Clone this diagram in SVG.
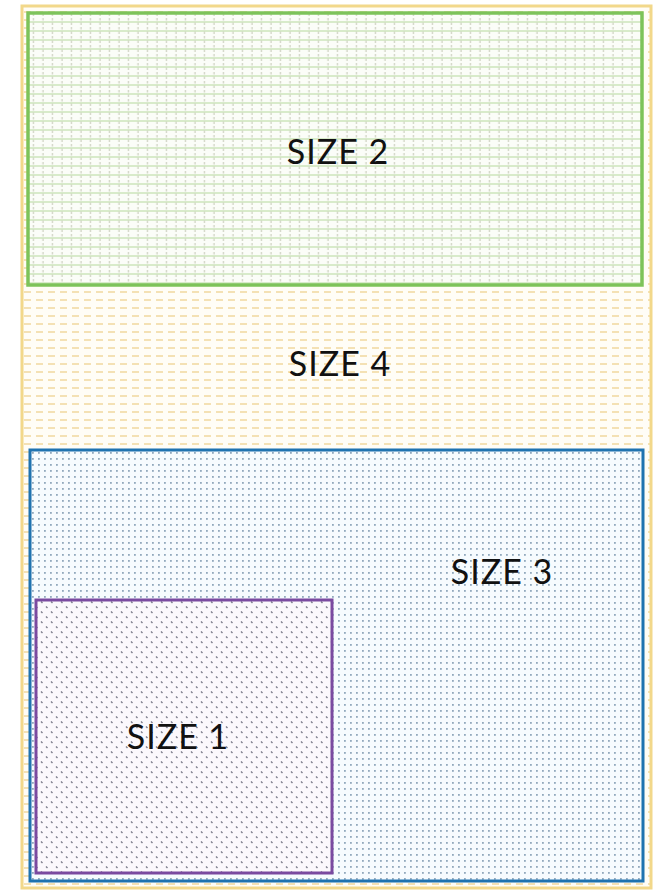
<svg xmlns="http://www.w3.org/2000/svg" width="654" height="891" viewBox="0 0 654 891">
<style>
.lbl{font-family:"Lato","Open Sans",sans-serif;font-size:34px;letter-spacing:1px;fill:#111;text-anchor:middle;dominant-baseline:central}
</style>
<defs>
<pattern id="pY" width="12" height="8" patternUnits="userSpaceOnUse">
<rect width="12" height="8" fill="#fffdf6"/>
<line x1="0" y1="4" x2="7" y2="4" stroke="#efd390" stroke-width="1.3"/>
</pattern>
<pattern id="pG" width="9.5" height="9" patternUnits="userSpaceOnUse">
<rect width="9.5" height="9" fill="#fbfdf8"/>
<line x1="0" y1="4" x2="9.5" y2="4" stroke="#c6e2b2" stroke-width="1.3"/>
<line x1="5" y1="0" x2="5" y2="9" stroke="#c8ccba" stroke-width="1.1" stroke-dasharray="2.5 2"/>
</pattern>
<pattern id="pB" width="6" height="6" patternUnits="userSpaceOnUse">
<rect width="6" height="6" fill="#f6fbfe"/>
<rect x="2" y="2" width="1.8" height="1.8" fill="#92a9bd"/>
</pattern>
<pattern id="pP" width="10" height="10" patternUnits="userSpaceOnUse">
<rect width="10" height="10" fill="#fbf8fc"/>
<path d="M1 1.5 l1.5 1.5 M6 6.5 l1.5 1.5" stroke="#7d7d8c" stroke-width="1.4"/>
</pattern>
</defs>
<g id="size4">
<rect x="22" y="6" width="629" height="882" fill="url(#pY)" stroke="#f2d88a" stroke-width="3"/>
<text class="lbl" x="340" y="362">SIZE 4</text>
</g>
<g id="size2">
<rect x="28" y="13" width="614" height="272" fill="url(#pG)" stroke="#7dc35a" stroke-width="3.5"/>
<text class="lbl" x="338" y="150">SIZE 2</text>
</g>
<g id="size3">
<rect x="30" y="450" width="613" height="431" fill="url(#pB)" stroke="#1f73b0" stroke-width="3"/>
<text class="lbl" x="502" y="570">SIZE 3</text>
</g>
<g id="size1">
<rect x="36" y="600" width="296" height="273" fill="url(#pP)" stroke="#7a4aa0" stroke-width="3"/>
<text class="lbl" x="178" y="735">SIZE 1</text>
</g>
<g id="connectors"/>
</svg>
